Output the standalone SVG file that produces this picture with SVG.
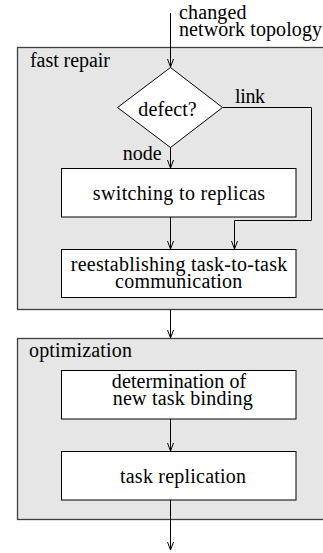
<svg xmlns="http://www.w3.org/2000/svg" width="323" height="553" viewBox="0 0 323 553">
<style>
text{font-family:"Liberation Serif","Times New Roman",Tinos,"DejaVu Serif",serif;font-size:20px;fill:#000}
.group{fill:#e6e6e6;stroke:#404040;stroke-width:1.3}
.box{fill:#fff;stroke:#000;stroke-width:1}
.c{fill:none;stroke:#000;stroke-width:1}
.m{text-anchor:middle}
</style>
<defs>
<marker id="arr" markerWidth="10" markerHeight="8" refX="9" refY="4" orient="auto" markerUnits="userSpaceOnUse">
<path d="M1,1 L9,4 L1,7" fill="none" stroke="#000" stroke-width="1"/>
</marker>
</defs>
<g id="fast-repair">
<rect class="group" x="17.5" y="47.5" width="320" height="262"/>
<text x="30" y="67" textLength="80" lengthAdjust="spacing">fast repair</text>
</g>
<g id="optimization">
<rect class="group" x="17.5" y="338.5" width="320" height="181"/>
<text x="29" y="356.7" textLength="103" lengthAdjust="spacing">optimization</text>
</g>
<g id="input-label">
<text x="179" y="18.5" textLength="67.4" lengthAdjust="spacing">changed</text>
<text x="179" y="36" textLength="143" lengthAdjust="spacing">network topology</text>
</g>
<g id="defect">
<polygon class="box" points="170.5,67.5 222.5,107.5 170.5,147.5 117.5,107.5"/>
<text class="m" x="167.5" y="115.7" textLength="58.4" lengthAdjust="spacing">defect?</text>
</g>
<g id="switching">
<rect class="box" x="61.5" y="168.5" width="234.5" height="48.5"/>
<text class="m" x="179" y="200" textLength="172.3" lengthAdjust="spacing">switching to replicas</text>
</g>
<g id="reestablishing">
<rect class="box" x="61.5" y="249.5" width="234.5" height="48"/>
<text class="m" x="179" y="270.7" textLength="216.6" lengthAdjust="spacing">reestablishing task-to-task</text>
<text class="m" x="178.7" y="288.3" textLength="127.3" lengthAdjust="spacing">communication</text>
</g>
<g id="determination">
<rect class="box" x="61.5" y="370.5" width="234.5" height="48.5"/>
<text class="m" x="179" y="387.7" textLength="134.3" lengthAdjust="spacing">determination of</text>
<text class="m" x="182.7" y="405" textLength="140" lengthAdjust="spacing">new task binding</text>
</g>
<g id="replication">
<rect class="box" x="61.5" y="451.5" width="234.5" height="48.5"/>
<text class="m" x="183" y="483.3" textLength="126" lengthAdjust="spacing">task replication</text>
</g>
<g id="connectors">
<path class="c" d="M170.5,13 V67" marker-end="url(#arr)"/>
<path class="c" d="M170.5,147.5 V168" marker-end="url(#arr)"/>
<path class="c" d="M222.5,107.5 H311.5 V220.5 H234.5 V249" marker-end="url(#arr)"/>
<path class="c" d="M170.5,217 V249" marker-end="url(#arr)"/>
<path class="c" d="M170.5,310 V338" marker-end="url(#arr)"/>
<path class="c" d="M170.5,419 V451" marker-end="url(#arr)"/>
<path class="c" d="M170.5,500 V550" marker-end="url(#arr)"/>
<text x="235" y="103.3" textLength="30" lengthAdjust="spacing">link</text>
<text x="122.7" y="160" textLength="39" lengthAdjust="spacing">node</text>
</g>
</svg>
